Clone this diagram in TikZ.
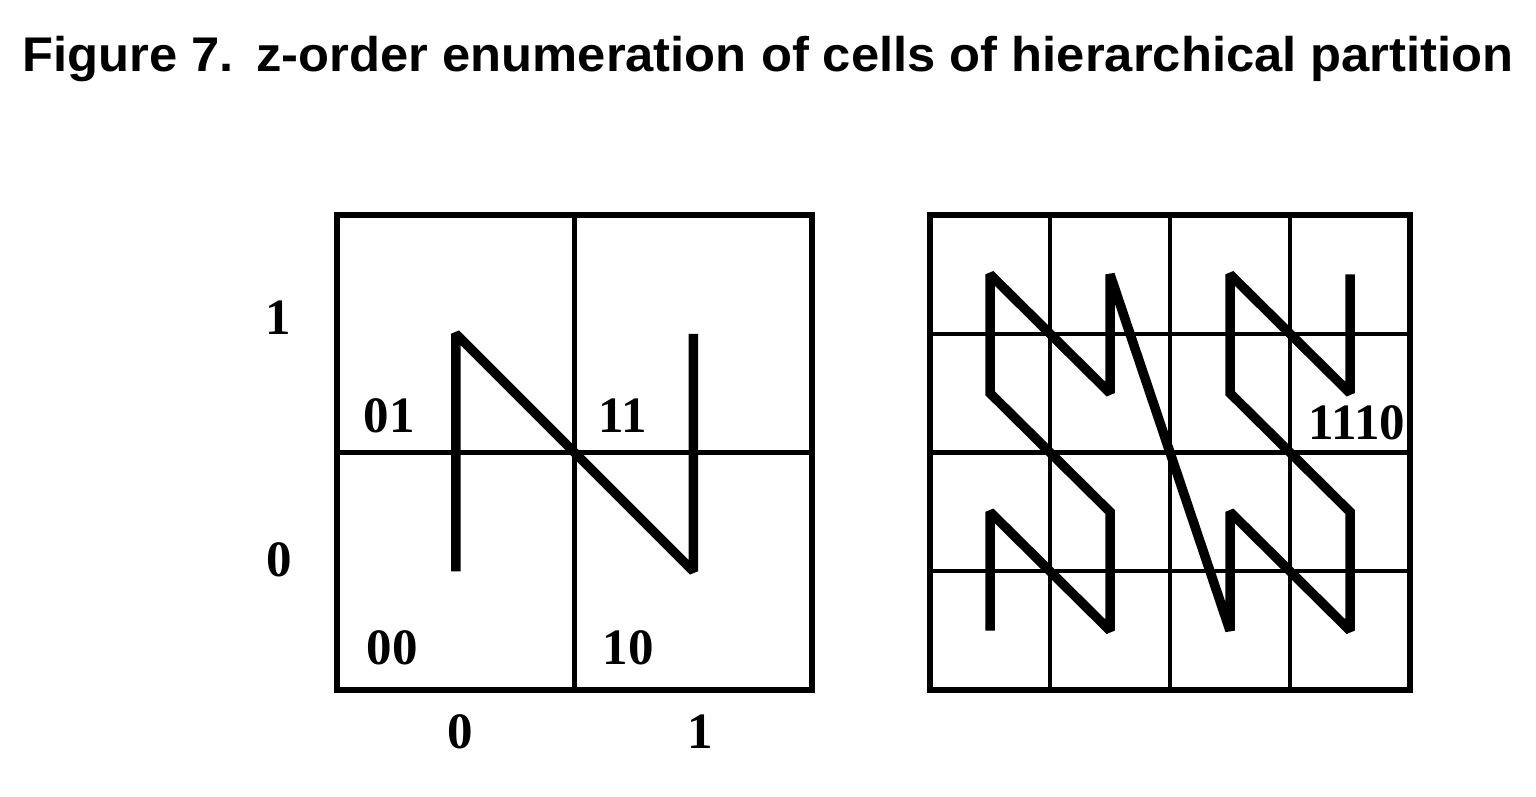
\documentclass[tikz,border=0pt]{standalone}
\usepackage{fontspec}
\usepackage{graphicx}
\setmainfont{Liberation Serif}
\newfontfamily\titlefont{Liberation Sans}
\tikzset{
  frame/.style={line width=3pt},
  gridline/.style={line width=2.3pt},
  zline/.style={line width=5.4pt, line join=miter, miter limit=2.5},
  celllabel/.style={font=\fontsize{29}{30}\selectfont\bfseries, inner sep=0pt},
}
\begin{document}
\begin{tikzpicture}
  \useasboundingbox (0,0) rectangle (30.72,15.92);

  \node[anchor=base west, inner sep=0pt, font=\titlefont\fontsize{27.7}{30}\selectfont\bfseries]
    (title) at (0.44,14.48)
    {\scalebox{1.042}[1]{Figure 7.\hspace{0.45em}z-order enumeration of cells of hierarchical partition}};

  % level 1
  \begin{scope}[shift={(6.74,2.12)}, x=4.75cm, y=4.75cm]
    \draw[gridline] (1,0) -- (1,2) (0,1) -- (2,1);
    \draw[frame] (0,0) rectangle (2,2);

    \coordinate (p00) at (0.5,0.5);
    \coordinate (p01) at (0.5,1.5);
    \coordinate (p10) at (1.5,0.5);
    \coordinate (p11) at (1.5,1.5);
    \draw[zline] (p00) -- (p01) -- (p10) -- (p11);
  \end{scope}

  \node[celllabel] (l01) at (7.78,7.6) {01};
  \node[celllabel] (l11) at (12.46,7.6) {11};
  \node[celllabel] (l00) at (7.84,2.96) {00};
  \node[celllabel] (l10) at (12.56,2.96) {10};

  \node[celllabel] (y1) at (5.56,9.56) {1};
  \node[celllabel] (y0) at (5.58,4.72) {0};
  \node[celllabel] (x0) at (9.2,1.28) {0};
  \node[celllabel] (x1) at (14.0,1.28) {1};

  % level 2
  \begin{scope}[shift={(18.6,2.12)}, x=2.4cm, y=2.375cm]
    \foreach \i in {1,2,3}{\draw[gridline] (\i,0) -- (\i,4) (0,\i) -- (4,\i);}
    \draw[frame] (0,0) rectangle (4,4);

    \foreach \n/\x/\y in {0/0/0,1/0/1,2/1/0,3/1/1,4/0/2,5/0/3,6/1/2,7/1/3,
                          8/2/0,9/2/1,10/3/0,11/3/1,12/2/2,13/2/3,14/3/2,15/3/3}
      {\coordinate (q\n) at (\x+0.5,\y+0.5);}
    \draw[zline] (q0) \foreach \n in {1,...,15}{ -- (q\n)};
  \end{scope}

  \node[celllabel] (l1110) at (27.14,7.46) {1110};
\end{tikzpicture}
\end{document}
